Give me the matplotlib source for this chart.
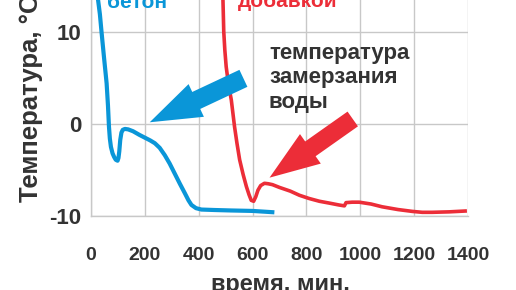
import matplotlib
matplotlib.use("Agg")
import matplotlib.pyplot as plt

# plain concrete (blue) - time, min / temperature, C
blue_t = [18, 26, 33, 39, 48, 58, 63, 66.7, 70, 74, 80, 86, 92, 98.7, 102, 105, 108.6,
          113, 118, 126, 138, 156, 180, 200, 220, 237, 255, 274, 292, 311, 330, 348,
          362, 373, 390, 410, 459, 520, 600, 681]
blue_T = [16, 13.5, 11.9, 10, 7.3, 4.4, 2.0, -0.3, -1.6, -2.5, -3.2, -3.6, -3.9, -4.0,
          -3.7, -3.0, -1.75, -0.95, -0.65, -0.55, -0.6, -0.8, -1.2, -1.5, -1.8, -2.1,
          -2.6, -3.4, -4.3, -5.4, -6.5, -7.5, -8.3, -8.8, -9.15, -9.3, -9.35, -9.4,
          -9.45, -9.6]

# concrete with additive (red)
red_t = [488, 490, 493, 497, 502, 511, 521, 533, 542, 552, 565, 577, 587, 595, 604,
         612, 620, 630, 644, 658, 674, 700, 740, 774, 810, 848, 885, 920, 941, 947,
         970, 996, 1040, 1081, 1140, 1193, 1230, 1267, 1330, 1396]
red_T = [16, 13.5, 10, 8, 6.2, 4.2, 2.6, -0.3, -2.1, -3.9, -5.5, -6.8, -7.7, -8.3, -8.4,
         -7.9, -7.2, -6.7, -6.45, -6.5, -6.6, -6.9, -7.3, -7.75, -8.1, -8.4, -8.6, -8.8,
         -8.9, -8.55, -8.5, -8.5, -8.7, -9.0, -9.3, -9.5, -9.6, -9.6, -9.55, -9.45]

x_ticks = [0, 200, 400, 600, 800, 1000, 1200, 1400]
y_ticks = [-10, 0, 10]

BLUE = "#0a96d8"
RED = "#ec2d38"
DARK = "#333333"
GRID = "#c8c8c8"

W, H = 516, 290
plt.rcParams["font.family"] = ["Liberation Sans", "DejaVu Sans"]
plt.rcParams["font.weight"] = "bold"

fig = plt.figure(figsize=(W / 100, H / 100), dpi=100)


def px(x, y):
    # pixel position (from top left) -> figure fraction
    return x / W, 1 - y / H


ax = fig.add_axes([91 / W, (H - 216) / H, (468 - 91) / W, 216 / H])
ax.set_xlim(0, 1400)
ax.set_ylim(-10, 13.44)

ax.plot(blue_t, blue_T, color=BLUE, lw=3.0, solid_capstyle="butt", zorder=3)
ax.plot(red_t, red_T, color=RED, lw=2.6, solid_capstyle="butt", zorder=3)

ax.set_xticks(x_ticks)
ax.set_yticks(y_ticks)
ax.set_xticklabels([str(v) for v in x_ticks])
ax.set_yticklabels([str(v) for v in y_ticks])
ax.tick_params(axis="x", length=0, pad=22, labelsize=14, labelcolor=DARK)
ax.tick_params(axis="y", length=0, pad=7, labelsize=16, labelcolor=DARK)
ax.grid(True, color=GRID, lw=1.0)
ax.set_axisbelow(True)
for s in ["top", "right"]:
    ax.spines[s].set_visible(False)
for s in ["left", "bottom"]:
    ax.spines[s].set_color(GRID)
    ax.spines[s].set_linewidth(1.0)

# arrows
ax.annotate("", xy=(218, 0.17), xytext=(566, 4.94),
            arrowprops=dict(arrowstyle="simple,head_length=3.7,head_width=2.6,tail_width=1.35",
                            mutation_scale=10, color=BLUE, lw=0, shrinkA=0, shrinkB=0),
            zorder=4)
ax.annotate("", xy=(663, -5.84), xytext=(972, 0.53),
            arrowprops=dict(arrowstyle="simple,head_length=3.6,head_width=2.6,tail_width=1.3",
                            mutation_scale=10, color=RED, lw=0, shrinkA=0, shrinkB=0),
            zorder=4)

# texts
fig.text(*px(107, 8), "бетон", color=BLUE, fontsize=15, fontweight="bold", va="baseline")
fig.text(*px(238, 7), "добавкой", color=RED, fontsize=15, fontweight="bold", va="baseline")
for i, line in enumerate(["температура", "замерзания", "воды"]):
    fig.text(*px(269, 59 + 24.5 * i), line, color=DARK, fontsize=16, fontweight="bold",
             va="baseline")

fig.text(*px(38, 202), "Температура, °C", color=DARK, fontsize=18.5, fontweight="bold",
         rotation=90, rotation_mode="anchor", ha="left", va="baseline")
fig.text(*px(280, 291), "время, мин.", color=DARK, fontsize=17, fontweight="bold",
         ha="center", va="baseline")

fig.savefig("out.png", dpi=100)
